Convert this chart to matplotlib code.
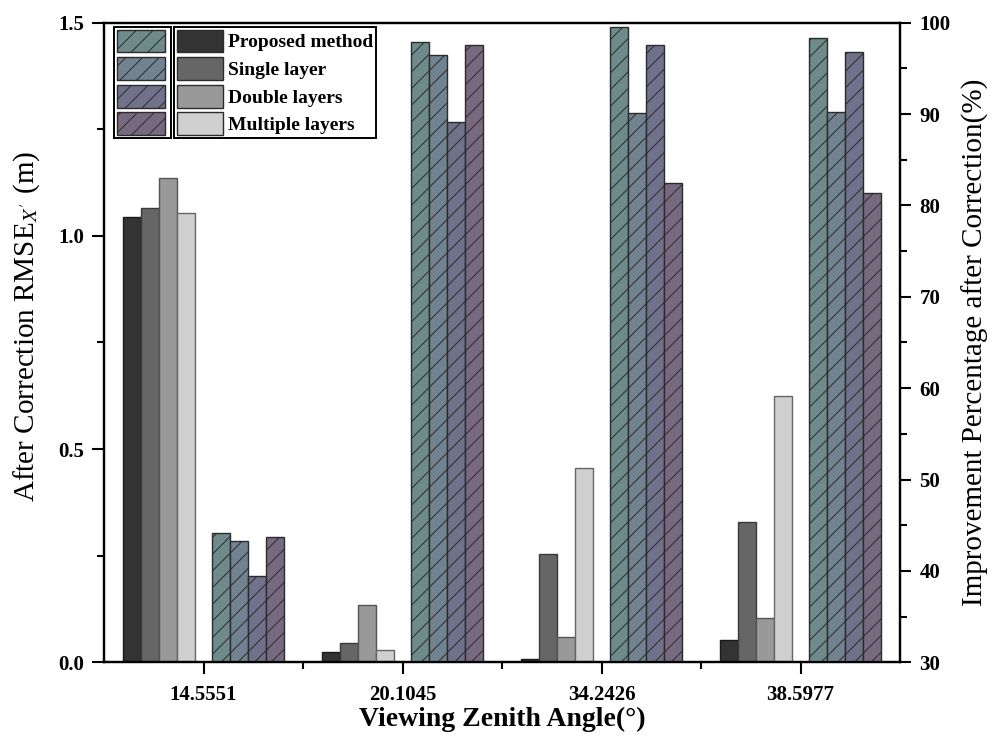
import matplotlib
matplotlib.use("Agg")
import matplotlib.pyplot as plt
from matplotlib.patches import Patch
from matplotlib.ticker import MultipleLocator, FixedLocator

plt.rcParams['font.family'] = ['Liberation Serif', 'DejaVu Serif']
plt.rcParams['mathtext.fontset'] = 'stix'
plt.rcParams['hatch.linewidth'] = 0.7

# Viewing zenith angles (categories)
angles = ['14.5551', '20.1045', '34.2426', '38.5977']
methods = ['Proposed method', 'Single layer', 'Double layers', 'Multiple layers']

# After-correction RMSE_X' (m), left axis
rmse_proposed = [1.044, 0.025, 0.007, 0.053]
rmse_single = [1.065, 0.046, 0.254, 0.329]
rmse_double = [1.135, 0.134, 0.060, 0.105]
rmse_multiple = [1.054, 0.028, 0.455, 0.625]

# Improvement percentage after correction (%), right axis
imp_proposed = [44.2, 97.9, 99.5, 98.3]
imp_single = [43.3, 96.5, 90.1, 90.2]
imp_double = [39.5, 89.1, 97.6, 96.8]
imp_multiple = [43.7, 97.6, 82.5, 81.4]

gray_colors = ['#333333', '#666666', '#999999', '#cfcfcf']
gray_edges = ['#1a1a1a', '#3a3a3a', '#555555', '#666666']
hatch_colors = ['#6e8a8b', '#718390', '#6f728a', '#776a80']

fig = plt.figure(figsize=(10, 7.36), dpi=100)
ax = fig.add_axes([0.104, 0.1001, 0.796, 0.8691])
ax2 = ax.twinx()

xpos = [1, 2, 3, 4]
w = 0.0895
rmse_series = [rmse_proposed, rmse_single, rmse_double, rmse_multiple]
imp_series = [imp_proposed, imp_single, imp_double, imp_multiple]

for j, vals in enumerate(rmse_series):
    ax.bar([x + (j - 4) * w for x in xpos], vals, width=w,
           color=gray_colors[j], edgecolor=gray_edges[j], linewidth=1.0, zorder=2)

for j, vals in enumerate(imp_series):
    ax2.bar([x + (j + 1) * w for x in xpos], vals, width=w,
            color=hatch_colors[j], edgecolor='#2b2b2b', linewidth=1.0,
            hatch='//', zorder=2)

ax.set_xlim(0.5, 4.5)
ax.set_ylim(0, 1.5)
ax2.set_ylim(30, 100)

ax.set_xticks(xpos)
ax.set_xticklabels(angles)
ax.xaxis.set_minor_locator(FixedLocator([1.5, 2.5, 3.5]))
ax.yaxis.set_major_locator(MultipleLocator(0.5))
ax.yaxis.set_minor_locator(MultipleLocator(0.25))
ax2.yaxis.set_major_locator(MultipleLocator(10))
ax2.yaxis.set_minor_locator(MultipleLocator(5))

for lab in ax.get_xticklabels() + ax.get_yticklabels() + ax2.get_yticklabels():
    lab.set_fontsize(15)
    lab.set_fontweight('bold')

ax.tick_params(axis='y', which='major', direction='out', length=8.5, width=1.5, pad=6)
ax.tick_params(axis='x', which='major', direction='out', length=8.5, width=1.5, pad=8)
ax.tick_params(axis='both', which='minor', direction='out', length=5, width=1.5)
ax2.tick_params(axis='y', which='major', direction='out', length=8, width=1.5, pad=6)
ax2.tick_params(axis='y', which='minor', direction='out', length=5, width=1.5)

for a in (ax, ax2):
    for sp in a.spines.values():
        sp.set_linewidth(1.6)

ax.set_ylabel(r"After Correction RMSE$_{X'}$ (m)", fontsize=21)
ax.yaxis.set_label_coords(-0.078, 0.525)
ax2.set_ylabel('Improvement Percentage after Correction(%)', fontsize=21, labelpad=8)
ax.set_xlabel('Viewing Zenith Angle(°)', fontsize=20, fontweight='bold', labelpad=1)

# Legends: hatched swatches (left box) and solid swatches with names (right box)
hatch_handles = [Patch(facecolor=c, edgecolor='#2b2b2b', hatch='//', linewidth=1.0)
                 for c in hatch_colors]
gray_handles = [Patch(facecolor=c, edgecolor='#2b2b2b', linewidth=1.0)
                for c in gray_colors]

common = dict(loc='upper left', frameon=True, fancybox=False, framealpha=1,
              edgecolor='black', borderaxespad=0, handleheight=1.42,
              labelspacing=0.25, borderpad=0.14,
              prop={'family': 'Liberation Serif', 'weight': 'bold', 'size': 14})

leg1 = ax2.legend(hatch_handles, ['', '', '', ''], bbox_to_anchor=(0.0126, 0.9933),
                  handlelength=2.47, handletextpad=0.2, **common)
leg1.get_frame().set_linewidth(1.4)
ax2.add_artist(leg1)
leg2 = ax2.legend(gray_handles, methods, bbox_to_anchor=(0.0879, 0.9933),
                  handlelength=2.4, handletextpad=0.26, **common)
leg2.get_frame().set_linewidth(1.4)

fig.savefig('out.png', dpi=100)
